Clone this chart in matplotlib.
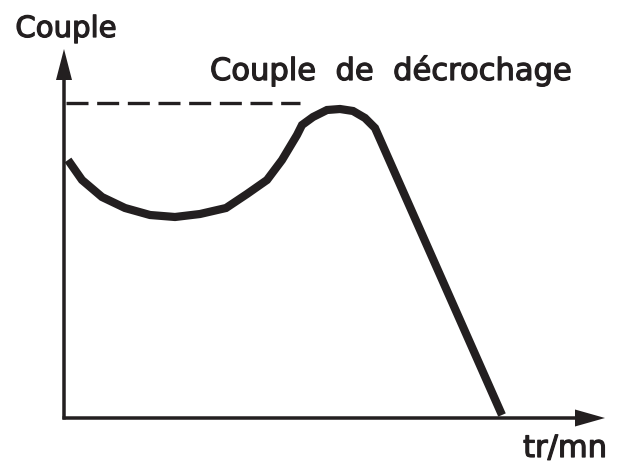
import matplotlib
matplotlib.use("Agg")
import matplotlib.pyplot as plt
import matplotlib.patheffects as pe
from matplotlib.patches import FancyArrow

# Torque / speed curve (arbitrary units)
speed = [4, 18, 38, 61, 86, 111, 136, 162, 183, 203, 218, 233, 238,
         249, 263, 276, 289, 301, 311, 438]
torque = [258, 238, 221, 210, 203, 201, 204, 210, 224, 238, 258, 283, 293,
          301, 308, 309, 307, 300, 290, 3]

breakdown_torque = 315
breakdown_line_end = 236
x_axis_end = 541
y_axis_end = 369

y_label = "Couple"
x_label = "tr/mn"
peak_label = "Couple  de  décrochage"

ink = "#231f20"

fig = plt.figure(figsize=(6.26, 4.70), dpi=100)
ax = fig.add_axes([0, 0, 1, 1])
ax.set_xlim(-64, 562)
ax.set_ylim(-52, 418)
ax.axis("off")

# axes with arrows
ax.add_patch(FancyArrow(0, -1.5, 0, y_axis_end + 1.5, width=3.5, head_width=16,
                        head_length=31, length_includes_head=True,
                        color=ink, lw=0))
ax.add_patch(FancyArrow(-1.5, 0, x_axis_end + 1.5, 0, width=3.5, head_width=17,
                        head_length=30, length_includes_head=True,
                        color=ink, lw=0))

# breakdown torque dashed line
ax.plot([1.5, breakdown_line_end], [breakdown_torque, breakdown_torque],
        color=ink, lw=2.4, dashes=(6.6, 2.6), dash_capstyle="butt")

# torque curve
ax.plot(speed, torque, color=ink, lw=5.9,
        solid_joinstyle="miter", solid_capstyle="butt")

bold = [pe.withStroke(linewidth=0.9, foreground=ink)]
ax.text(2, 381, y_label, fontsize=21, family="DejaVu Sans",
        ha="center", va="baseline", color=ink, path_effects=bold)
ax.text(146, 338, peak_label, fontsize=22, family="DejaVu Sans",
        ha="left", va="baseline", color=ink, path_effects=bold)
ax.text(501, -39, x_label, fontsize=22, family="DejaVu Sans",
        ha="center", va="baseline", color=ink, path_effects=bold)

fig.savefig("out.png", dpi=100)
